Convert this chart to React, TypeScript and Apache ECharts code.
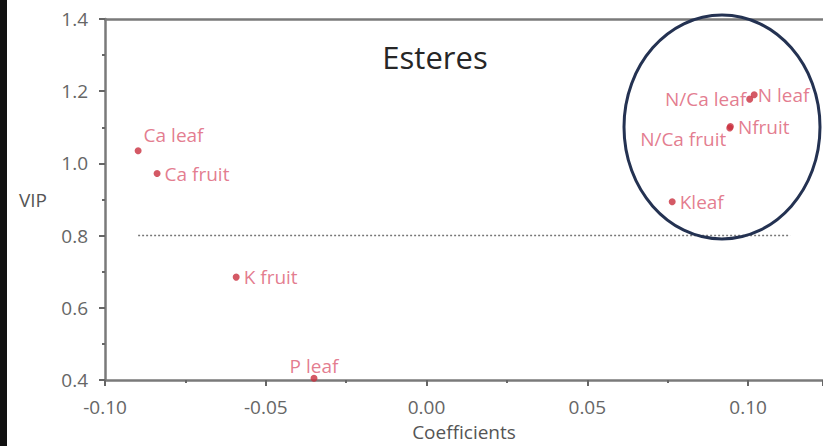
import React, { useEffect, useRef } from "react";
import * as echarts from "echarts";

const names = ["Ca leaf", "Ca fruit", "K fruit", "P leaf", "N/Ca leaf", "N leaf", "Nfruit", "N/Ca fruit", "Kleaf"];
const coefficients = [-0.0897, -0.0838, -0.0592, -0.035, 0.1005, 0.1019, 0.0945, 0.0943, 0.0764];
const vip = [1.035, 0.972, 0.685, 0.405, 1.178, 1.19, 1.102, 1.098, 0.894];
const thresholdX = [-0.0897, 0.1131];
const thresholdY = [0.8, 0.8];
const xTicks = ["-0.10", "-0.05", "0.00", "0.05", "0.10"];
const yTicks = ["0.4", "0.6", "0.8", "1.0", "1.2", "1.4"];

const labelStyles: Record<string, any> = {
  "Ca leaf": { position: "right", distance: 2, offset: [0, -16] },
  "Ca fruit": { position: "right", distance: 4 },
  "K fruit": { position: "right", distance: 4 },
  "P leaf": { position: "top", distance: -1 },
  "N/Ca leaf": { position: "left", distance: 0 },
  "N leaf": { position: "right", distance: 0 },
  "Nfruit": { position: "right", distance: 4 },
  "N/Ca fruit": { position: "left", distance: 0, offset: [0, 11] },
  Kleaf: { position: "right", distance: 4 },
};

const FONT = "'Open Sans', 'DejaVu Sans', sans-serif";

export default function App() {
  const ref = useRef<HTMLDivElement>(null);
  useEffect(() => {
    if (!ref.current) return;
    const chart = echarts.init(ref.current, undefined, { renderer: "svg" });
    const pts = names.map((n, i) => ({
      name: n,
      value: [coefficients[i], vip[i]],
      label: labelStyles[n],
    }));
    const axisLine = { show: true, onZero: false, lineStyle: { color: "#7a7a7a", width: 2.5 } };
    chart.setOption({
      animation: false,
      backgroundColor: "#ffffff",
      textStyle: { fontFamily: FONT },
      title: {
        text: "Esteres",
        left: 430,
        top: 36,
        textAlign: "center",
        textStyle: { fontFamily: FONT, fontSize: 31, fontWeight: "normal", color: "#262626" },
      },
      graphic: [
        { type: "rect", shape: { x: 0, y: 0, width: 7, height: 446 }, style: { fill: "#111" } },
        {
          type: "ellipse",
          shape: { cx: 722, cy: 127, rx: 98, ry: 112 },
          style: { fill: "none", stroke: "#243252", lineWidth: 3 },
          z: 100,
        },
      ],
      grid: { left: 105, top: 19, bottom: 65, right: 0 },
      xAxis: [
        {
          type: "value",
          min: -0.1,
          max: 0.1233,
          interval: 0.05,
          name: "Coefficients",
          nameLocation: "middle",
          nameGap: 42,
          nameTextStyle: { fontFamily: FONT, fontSize: 19, color: "#555" },
          axisLine,
          axisTick: { show: true, length: 6, lineStyle: { color: "#666", width: 2 } },
          minorTick: { show: true, splitNumber: 2, length: 3, lineStyle: { color: "#666", width: 2 } },
          splitLine: { show: false },
          axisLabel: {
            fontFamily: FONT,
            fontSize: 19,
            color: "#666",
            margin: 17,
            showMaxLabel: false,
            formatter: (v: number) => {
              const idx = Math.round((v + 0.1) / 0.05);
              return xTicks[idx] ?? "";
            },
          },
        },
        {
          type: "value",
          position: "top",
          min: -0.1,
          max: 0.1233,
          axisLine,
          axisTick: { show: false },
          axisLabel: { show: false },
          splitLine: { show: false },
        },
      ],
      yAxis: {
        type: "value",
        min: 0.4,
        max: 1.4,
        interval: 0.2,
        name: "VIP",
        nameLocation: "middle",
        nameRotate: 0,
        nameGap: 58,
        nameTextStyle: { fontFamily: FONT, fontSize: 19, color: "#555" },
        axisLine,
        axisTick: { show: true, length: 6, lineStyle: { color: "#666", width: 2 } },
        minorTick: { show: true, splitNumber: 2, length: 3, lineStyle: { color: "#666", width: 2 } },
        splitLine: { show: false },
        axisLabel: {
          fontFamily: FONT,
          fontSize: 19,
          color: "#666",
          margin: 17,
          formatter: (v: number) => {
            const idx = Math.round((v - 0.4) / 0.2);
            return yTicks[idx] ?? "";
          },
        },
      },
      series: [
        {
          type: "line",
          data: thresholdX.map((x, i) => [x, thresholdY[i]]),
          symbol: "none",
          lineStyle: { type: [2, 2], color: "#777", width: 1.5 },
          z: 1,
        },
        {
          type: "scatter",
          clip: false,
          symbolSize: 7,
          itemStyle: { color: "#c9303f" },
          label: {
            show: true,
            formatter: "{b}",
            fontFamily: FONT,
            fontSize: 19,
            color: "#dc5a72",
          },
          data: pts,
          z: 3,
        },
      ],
    });
    return () => chart.dispose();
  }, []);
  return (
    <div
      ref={ref}
      style={{ position: "fixed", left: 0, top: 0, width: 823, height: 446, background: "#fff" }}
    />
  );
}
